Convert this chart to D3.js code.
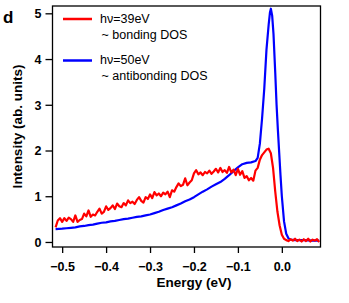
<!DOCTYPE html>
<html>
<head>
<meta charset="utf-8">
<script src="https://cdn.jsdelivr.net/npm/d3@7"></script>
<style>
  body { margin: 0; background: #fff; }
  svg { font-family: "Liberation Sans", Arial, sans-serif; }
</style>
</head>
<body>
<svg id="chart" width="349" height="303"></svg>
<script>
"use strict";

// hv = 39 eV, bonding DOS (energy eV, intensity)
var redSeries = [
  [-0.515,0.32],[-0.510,0.47],[-0.505,0.52],[-0.500,0.44],[-0.495,0.52],[-0.490,0.46],
  [-0.485,0.53],[-0.480,0.50],[-0.475,0.44],[-0.470,0.58],[-0.465,0.44],[-0.460,0.48],
  [-0.455,0.50],[-0.450,0.62],[-0.445,0.56],[-0.440,0.69],[-0.435,0.55],[-0.430,0.60],
  [-0.425,0.58],[-0.420,0.66],[-0.415,0.73],[-0.410,0.62],[-0.405,0.66],[-0.400,0.78],
  [-0.395,0.70],[-0.390,0.74],[-0.385,0.80],[-0.380,0.72],[-0.375,0.84],[-0.370,0.78],
  [-0.365,0.76],[-0.360,0.85],[-0.355,0.80],[-0.350,0.91],[-0.345,0.85],[-0.340,0.88],
  [-0.335,0.83],[-0.330,0.92],[-0.325,0.98],[-0.320,0.90],[-0.315,0.86],[-0.310,0.98],
  [-0.305,0.94],[-0.300,1.04],[-0.295,0.96],[-0.290,1.09],[-0.285,1.02],[-0.280,1.06],
  [-0.275,1.00],[-0.270,1.08],[-0.265,1.04],[-0.260,1.10],[-0.255,0.98],[-0.250,1.13],
  [-0.245,1.10],[-0.240,1.20],[-0.235,1.28],[-0.230,1.22],[-0.225,1.25],[-0.220,1.39],
  [-0.215,1.24],[-0.210,1.30],[-0.205,1.35],[-0.200,1.50],[-0.195,1.57],[-0.190,1.48],
  [-0.185,1.52],[-0.180,1.46],[-0.175,1.53],[-0.170,1.50],[-0.165,1.56],[-0.160,1.49],
  [-0.155,1.54],[-0.150,1.60],[-0.145,1.52],[-0.140,1.62],[-0.135,1.53],[-0.130,1.57],
  [-0.125,1.51],[-0.120,1.64],[-0.115,1.52],[-0.110,1.58],[-0.105,1.46],[-0.100,1.60],
  [-0.095,1.47],[-0.090,1.55],[-0.085,1.40],[-0.080,1.44],[-0.075,1.35],[-0.070,1.40],
  [-0.065,1.34],[-0.060,1.56],[-0.055,1.62],[-0.050,1.80],[-0.045,1.90],[-0.040,1.96],
  [-0.035,2.02],[-0.030,2.04],[-0.025,1.94],[-0.020,1.62],[-0.015,1.10],[-0.010,0.66],
  [-0.005,0.36],[0.000,0.16],[0.005,0.07],[0.010,0.04],[0.015,0.02],[0.020,0.06],
  [0.025,0.03],[0.030,0.07],[0.035,0.02],[0.040,0.05],[0.045,0.01],[0.050,0.06],
  [0.055,0.02],[0.060,0.07],[0.065,0.01],[0.070,0.05],[0.075,0.03],[0.080,0.06],[0.085,0.00]
];

// hv = 50 eV, antibonding DOS
var blueSeries = [
  [-0.515,0.28],[-0.500,0.29],[-0.490,0.30],[-0.480,0.31],[-0.470,0.32],[-0.460,0.34],
  [-0.450,0.35],[-0.440,0.37],[-0.430,0.38],[-0.420,0.40],[-0.410,0.42],[-0.400,0.43],
  [-0.390,0.45],[-0.380,0.46],[-0.370,0.48],[-0.360,0.50],[-0.350,0.51],[-0.340,0.53],
  [-0.330,0.55],[-0.320,0.56],[-0.310,0.58],[-0.300,0.60],[-0.290,0.63],[-0.280,0.66],
  [-0.270,0.70],[-0.260,0.73],[-0.250,0.76],[-0.240,0.80],[-0.230,0.84],[-0.220,0.89],
  [-0.210,0.93],[-0.200,0.98],[-0.190,1.04],[-0.180,1.10],[-0.170,1.15],[-0.160,1.21],
  [-0.150,1.26],[-0.140,1.31],[-0.130,1.38],[-0.120,1.46],[-0.110,1.55],[-0.100,1.63],
  [-0.090,1.70],[-0.080,1.73],[-0.070,1.74],[-0.060,1.77],[-0.055,1.84],[-0.050,2.15],
  [-0.045,2.70],[-0.040,3.35],[-0.035,4.20],[-0.030,4.75],[-0.027,5.02],[-0.025,5.10],
  [-0.022,4.95],[-0.019,4.55],[-0.015,3.70],[-0.012,3.00],[-0.009,2.45],[-0.006,1.95],
  [-0.003,1.45],[0.000,1.00],[0.005,0.45],[0.010,0.18],[0.015,0.08],[0.020,0.05],
  [0.030,0.04],[0.050,0.04],[0.070,0.03],[0.085,0.03]
];

var xTicks = [-0.5, -0.4, -0.3, -0.2, -0.1, 0.0];
var yTicks = [0, 1, 2, 3, 4, 5];
var legendItems = [
  { label: "h\u03bd=39eV", note: "~ bonding DOS", color: "#ff0000" },
  { label: "h\u03bd=50eV", note: "~ antibonding DOS", color: "#0000ff" }
];

var margin = { l: 52.5, t: 6, r: 28.5, b: 56 };
var svg = d3.select("#chart");
var W = 349, H = 303;
var innerWidth = W - margin.l - margin.r;
var innerHeight = H - margin.t - margin.b;

var x = d3.scaleLinear().domain([-0.522, 0.088]).range([margin.l, margin.l + innerWidth]);
var y = d3.scaleLinear().domain([-0.11, 5.16]).range([margin.t + innerHeight, margin.t]);

// frame
svg.append("rect")
  .attr("x", margin.l).attr("y", margin.t)
  .attr("width", innerWidth).attr("height", innerHeight)
  .attr("fill", "none").attr("stroke", "#000").attr("stroke-width", 1.3);

var xAxis = svg.append("g")
  .attr("transform", "translate(0," + (margin.t + innerHeight) + ")")
  .call(d3.axisBottom(x).tickValues(xTicks).tickSize(6).tickSizeOuter(0).tickFormat(d3.format(".1f")));
xAxis.attr("font-family", null).attr("font-size", null);
xAxis.select(".domain").remove();
xAxis.selectAll(".tick line").attr("stroke-width", 1.3);
xAxis.selectAll(".tick text")
  .attr("y", 24).attr("dy", null)
  .attr("font-size", "12.5px").attr("font-weight", "bold").attr("fill", "#000");

var yAxis = svg.append("g")
  .attr("transform", "translate(" + margin.l + ",0)")
  .call(d3.axisLeft(y).tickValues(yTicks).tickSize(7).tickSizeOuter(0).tickFormat(d3.format("d")));
yAxis.attr("font-family", null).attr("font-size", null);
yAxis.select(".domain").remove();
yAxis.selectAll(".tick line").attr("stroke-width", 1.3);
yAxis.selectAll(".tick text")
  .attr("x", -11).attr("dy", "0.34em")
  .attr("font-size", "12.5px").attr("font-weight", "bold").attr("fill", "#000");

var line = d3.line()
  .x(function(d) { return x(d[0]); })
  .y(function(d) { return y(d[1]); });

svg.append("path").datum(blueSeries)
  .attr("d", line).attr("fill", "none")
  .attr("stroke", "#0000ff").attr("stroke-width", 2.2).attr("stroke-linejoin", "round");
svg.append("path").datum(redSeries)
  .attr("d", line).attr("fill", "none")
  .attr("stroke", "#ff0000").attr("stroke-width", 2.2).attr("stroke-linejoin", "round");

// legend
var legend = svg.append("g").attr("transform", "translate(63,19)");
legendItems.forEach(function(item, i) {
  var g = legend.append("g").attr("transform", "translate(0," + (i * 41.5) + ")");
  g.append("line")
    .attr("x1", 0).attr("x2", 29).attr("y1", 0).attr("y2", 0)
    .attr("stroke", item.color).attr("stroke-width", 2.5);
  g.append("text")
    .attr("x", 37).attr("y", 3.5)
    .attr("font-size", "12.5px")
    .text(item.label);
  g.append("text")
    .attr("x", 38.5).attr("y", 19.5)
    .attr("font-size", "12.5px")
    .text(item.note);
});

// axis titles
svg.append("text")
  .attr("x", x(-0.2)).attr("y", 287)
  .attr("text-anchor", "middle")
  .attr("font-weight", "bold").attr("font-size", "13.5px")
  .text("Energy (eV)");

svg.append("text")
  .attr("transform", "translate(22," + (margin.t + innerHeight / 2) + ") rotate(-90)")
  .attr("text-anchor", "middle")
  .attr("font-weight", "bold").attr("font-size", "13.5px")
  .text("Intensity (ab. units)");

svg.append("text")
  .attr("x", 3).attr("y", 23)
  .attr("font-weight", "bold").attr("font-size", "17px")
  .text("d");
</script>
</body>
</html>
